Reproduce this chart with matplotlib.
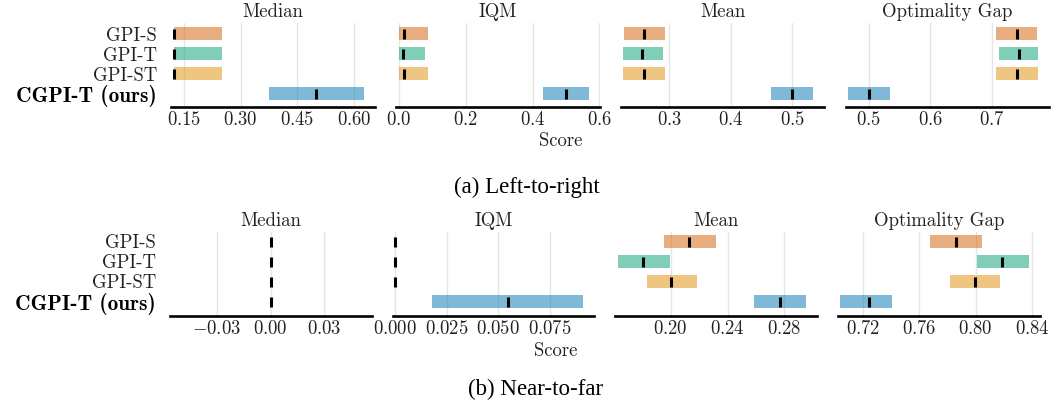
import matplotlib
matplotlib.use("Agg")
import matplotlib.pyplot as plt

plt.rcParams['font.family'] = ['cmr10', 'DejaVu Serif']
plt.rcParams['mathtext.fontset'] = 'cm'
plt.rcParams['axes.formatter.use_mathtext'] = True

# ---------------- data ----------------
algorithms = ['GPI-S', 'GPI-T', 'GPI-ST', 'CGPI-T (ours)']
colors = ['#d55e00', '#029e73', '#de8f05', '#0173b2']
metrics = ['Median', 'IQM', 'Mean', 'Optimality Gap']

# (a) Left-to-right
a_median_lo = [0.123, 0.123, 0.123, 0.375]
a_median_hi = [0.250, 0.250, 0.250, 0.626]
a_median_pt = [0.124, 0.124, 0.124, 0.499]
a_iqm_lo = [0.0, 0.0, 0.0, 0.432]
a_iqm_hi = [0.087, 0.078, 0.087, 0.570]
a_iqm_pt = [0.016, 0.011, 0.016, 0.500]
a_mean_lo = [0.226, 0.225, 0.225, 0.465]
a_mean_hi = [0.293, 0.290, 0.293, 0.534]
a_mean_pt = [0.259, 0.256, 0.259, 0.500]
a_og_lo = [0.707, 0.711, 0.707, 0.466]
a_og_hi = [0.773, 0.775, 0.775, 0.534]
a_og_pt = [0.741, 0.744, 0.741, 0.500]

# (b) Near-to-far
b_median_lo = [0.0, 0.0, 0.0, 0.0]
b_median_hi = [0.0, 0.0, 0.0, 0.0]
b_median_pt = [0.0, 0.0, 0.0, 0.0]
b_iqm_lo = [0.0, 0.0, 0.0, 0.0179]
b_iqm_hi = [0.0, 0.0, 0.0, 0.0910]
b_iqm_pt = [0.0, 0.0, 0.0, 0.0545]
b_mean_lo = [0.1953, 0.1629, 0.1833, 0.2587]
b_mean_hi = [0.2319, 0.1995, 0.2185, 0.2953]
b_mean_pt = [0.2131, 0.1805, 0.2002, 0.2768]
b_og_lo = [0.7676, 0.8009, 0.7817, 0.7039]
b_og_hi = [0.8044, 0.8377, 0.8170, 0.7407]
b_og_pt = [0.7863, 0.8184, 0.7993, 0.7243]

a_ticks = [[0.15, 0.30, 0.45, 0.60], [0.0, 0.2, 0.4, 0.6],
           [0.3, 0.4, 0.5], [0.5, 0.6, 0.7]]
b_ticks = [[-0.03, 0.00, 0.03], [0.000, 0.025, 0.050, 0.075],
           [0.20, 0.24, 0.28], [0.72, 0.76, 0.80, 0.84]]

# ---------------- layout ----------------
W, H = 1053, 408
fig = plt.figure(figsize=(W / 100, H / 100), dpi=100)

a_xlims = [(0.115, 0.656), (-0.009, 0.602), (0.2215, 0.5515), (0.463, 0.793)]
b_xlims = [(-0.0562, 0.0567), (-0.001, 0.0963), (0.1608, 0.303), (0.7025, 0.8455)]
a_px = [(171, 375), (396, 600), (621, 824), (846, 1049)]
b_px = [(170, 372), (393, 594), (615, 817), (838, 1040)]

FS = 13.5


def make_row(px, top, bottom, ylim, data, ticks, xlims):
    for j, ((x0, x1), (lo, hi, pt)) in enumerate(zip(px, data)):
        ax = fig.add_axes([x0 / W, 1 - bottom / H, (x1 - x0) / W, (bottom - top) / H])
        n = len(algorithms)
        for i in range(n):
            y = n - 1 - i
            ax.barh(y=y, width=hi[i] - lo[i], left=lo[i], height=0.65,
                    color=colors[i], alpha=0.5, linewidth=0)
            ax.vlines(x=pt[i], ymin=y - 0.28, ymax=y + 0.22, color='k', linewidth=2.2)
        ax.set_xlim(*xlims[j])
        ax.set_ylim(*ylim)
        ax.set_xticks(ticks[j])
        ax.set_axisbelow(True)
        ax.grid(axis='x', color='#e6e6e6', linewidth=1)
        ax.grid(axis='y', visible=False)
        for s in ['top', 'left', 'right']:
            ax.spines[s].set_visible(False)
        ax.spines['bottom'].set_linewidth(1.9)
        ax.spines['bottom'].set_color('black')
        ax.tick_params(axis='x', length=0, pad=3, labelsize=FS, colors='#222222')
        ax.tick_params(axis='y', length=0, pad=10)
        ax.set_title(metrics[j], fontsize=FS, pad=4.3, color='#222222')
        if j == 0:
            ax.set_yticks([n - 1 - i for i in range(n)])
            labs = ax.set_yticklabels(algorithms, fontsize=FS, color='#222222')
            labs[-1].set_fontfamily('cmb10')
            labs[-1].set_fontsize(15.3)
            labs[-1].set_color('black')
        else:
            ax.set_yticks([])


make_row(a_px, 23.3, 107.3, (-0.68, 3.52),
         [(a_median_lo, a_median_hi, a_median_pt), (a_iqm_lo, a_iqm_hi, a_iqm_pt),
          (a_mean_lo, a_mean_hi, a_mean_pt), (a_og_lo, a_og_hi, a_og_pt)],
         a_ticks, a_xlims)
make_row(b_px, 231.7, 315.7, (-0.72, 3.475),
         [(b_median_lo, b_median_hi, b_median_pt), (b_iqm_lo, b_iqm_hi, b_iqm_pt),
          (b_mean_lo, b_mean_hi, b_mean_pt), (b_og_lo, b_og_hi, b_og_pt)],
         b_ticks, b_xlims)

fig.text(561 / W, 1 - 145.5 / H, 'Score', ha='center', va='baseline', fontsize=FS, color='#222222')
fig.text(556 / W, 1 - 356 / H, 'Score', ha='center', va='baseline', fontsize=FS, color='#222222')

fig.text(527 / W, 1 - 187 / H, '(a) Left-to-right', ha='center', va='center',
         fontsize=16.5, family='Liberation Serif')
fig.text(536 / W, 1 - 389.5 / H, '(b) Near-to-far', ha='center', va='center',
         fontsize=16.5, family='Liberation Serif')

fig.savefig('out.png', dpi=100)
